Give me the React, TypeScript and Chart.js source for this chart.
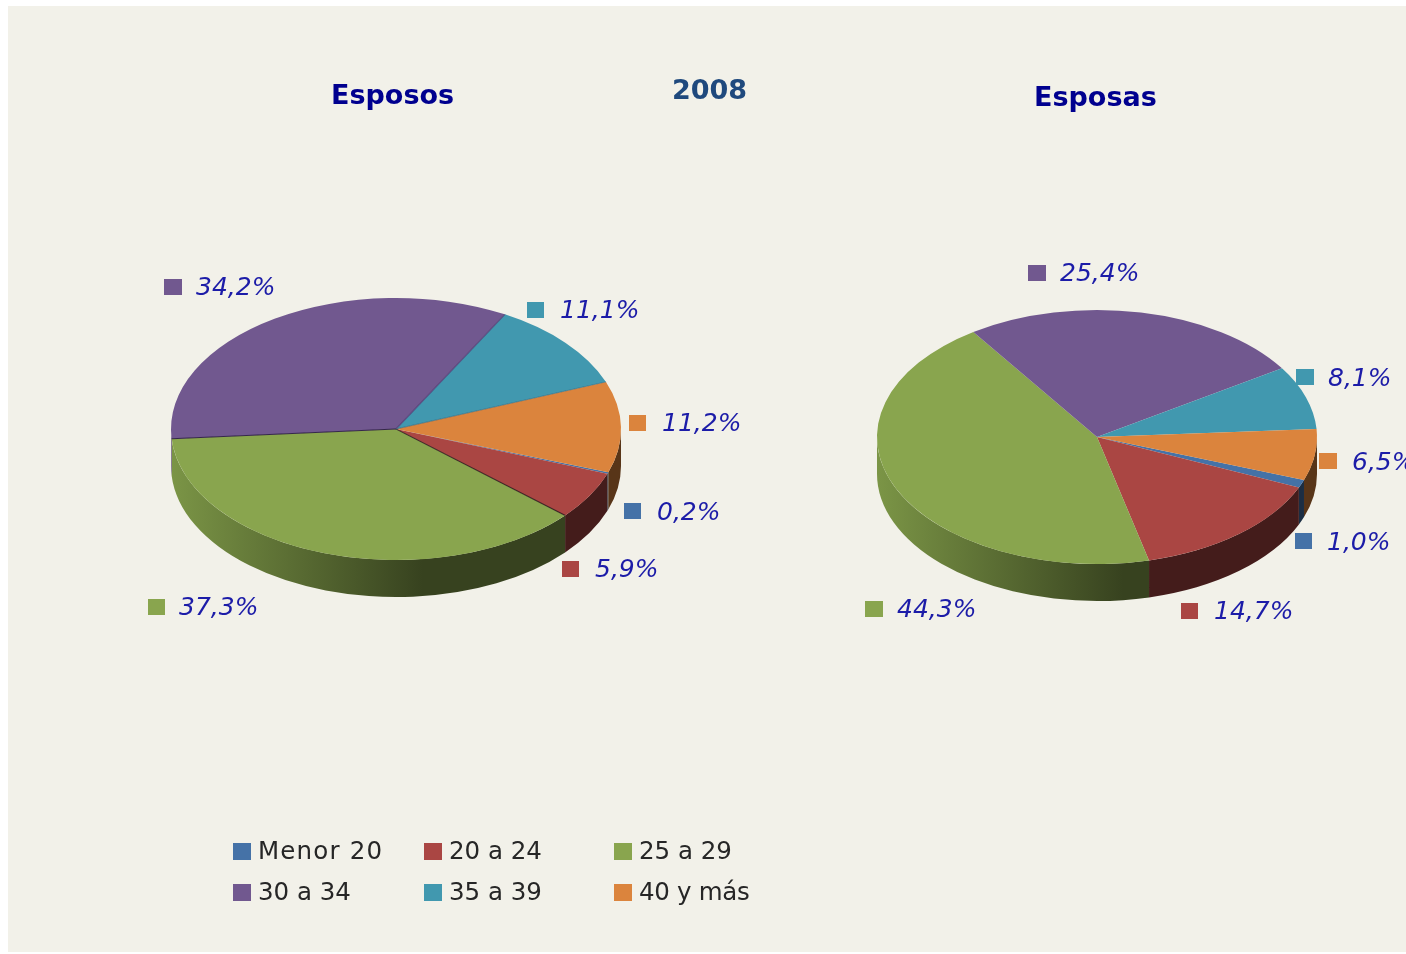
import React, { useEffect, useRef } from "react";
import { Chart, registerables } from "chart.js";

Chart.register(...registerables);

// ---------- data ----------
const categories = ["Menor 20", "20 a 24", "25 a 29", "30 a 34", "35 a 39", "40 y más"];
const esposos = [0.2, 5.9, 37.3, 34.2, 11.1, 11.2];
const esposas = [1.0, 14.7, 44.3, 25.4, 8.1, 6.5];
const pageTitle = "2008";
const titleLeft = "Esposos";
const titleRight = "Esposas";

// ---------- styles / layout ----------
const colors = ["#4572A7", "#AA4643", "#89A54E", "#71588F", "#4198AF", "#DB843D"];
const BG = "#F2F1E9";
const PAGE_X = 8;
const PAGE_Y = 6;
const PAGE_W = 1398;
const PAGE_H = 946;
const SPLIT_X = 760;
const TEXT_BLUE = "#1C1CA8";
const FONT = '"DejaVu Sans"';
const legendSpacing = ["1.2px", "0px", "0px", "0px", "0px", "-0.3px"];

type Pie = {
  data: number[];
  cx: number; cy: number; rx: number; ry: number; depth: number; rotation: number;
  left: number; right: number; seams: boolean;
  squares: [number, number, number][]; // square left x, centre y, square width
  texts: [number, number][]; // text left x, centre y
};

const leftPie: Pie = {
  data: esposos, cx: 396, cy: 429, rx: 225, ry: 131, depth: 37, rotation: 109.3,
  left: PAGE_X, right: SPLIT_X, seams: true,
  squares: [[624, 511, 17], [562, 569, 17], [148, 607, 17], [164, 287, 18], [527, 310, 17], [629, 423, 17]],
  texts: [[657, 513], [595, 570], [179, 608], [196, 288], [560, 311], [662, 424]],
};
const rightPie: Pie = {
  data: esposas, cx: 1097, cy: 437, rx: 220, ry: 127, depth: 37, rotation: 109.8,
  left: SPLIT_X, right: PAGE_X + PAGE_W, seams: false,
  squares: [[1295, 541, 17], [1181, 611, 17], [865, 609, 18], [1028, 273, 18], [1296, 377, 18], [1319, 461, 18]],
  texts: [[1327, 543], [1214, 612], [897, 610], [1060, 274], [1328, 379], [1352, 463]],
};

const legendCols = [233, 424, 614];
const legendRows = [852, 893];

function shade(hex: string, f: number) {
  const n = parseInt(hex.slice(1), 16);
  const c = [(n >> 16) & 255, (n >> 8) & 255, n & 255].map((v) => Math.round(v * f));
  return `rgb(${c[0]},${c[1]},${c[2]})`;
}

function pct(v: number) {
  return v.toFixed(1).replace(".", ",") + "%";
}

function piePlugin(p: Pie, extra?: (ctx: CanvasRenderingContext2D) => void) {
  const ox = p.left;
  const oy = PAGE_Y;
  const cx = p.cx - ox;
  const cy = p.cy - oy;
  return {
    id: "pie3d",
    beforeDatasetsDraw(chart: any) {
      const ctx: CanvasRenderingContext2D = chart.ctx;
      const arcs = chart.getDatasetMeta(0).data;
      ctx.save();
      arcs.forEach((arc: any, i: number) => {
        const { startAngle, endAngle } = arc.getProps(["startAngle", "endAngle"], true);
        for (let k = -1; k <= 2; k++) {
          const lo = Math.max(startAngle, k * 2 * Math.PI);
          const hi = Math.min(endAngle, k * 2 * Math.PI + Math.PI);
          if (hi <= lo) continue;
          const g = ctx.createLinearGradient(cx - p.rx, 0, cx + p.rx * 0.12, 0);
          g.addColorStop(0, shade(colors[i], 0.9));
          g.addColorStop(1, shade(colors[i], 0.4));
          ctx.beginPath();
          ctx.ellipse(cx, cy, p.rx, p.ry, 0, lo, hi, false);
          ctx.ellipse(cx, cy + p.depth, p.rx, p.ry, 0, hi, lo, true);
          ctx.closePath();
          ctx.fillStyle = g;
          ctx.fill();
        }
      });
      ctx.restore();
      ctx.save();
      ctx.translate(0, cy);
      ctx.scale(1, p.ry / p.rx);
      ctx.translate(0, -cy);
    },
    afterDatasetsDraw(chart: any) {
      const ctx: CanvasRenderingContext2D = chart.ctx;
      if (p.seams) {
        const arcs = chart.getDatasetMeta(0).data;
        const seam = [null, null, "rgba(40,20,25,0.85)", "rgba(35,20,60,0.85)", "rgba(80,50,110,0.7)", "rgba(40,100,130,0.6)"];
        arcs.forEach((arc: any, i: number) => {
          if (!seam[i]) return;
          const a = arc.getProps(["startAngle"], true).startAngle;
          ctx.beginPath();
          ctx.moveTo(cx, cy);
          ctx.lineTo(cx + p.rx * Math.cos(a), cy + p.rx * Math.sin(a));
          ctx.strokeStyle = seam[i] as string;
          ctx.lineWidth = 1.6;
          ctx.stroke();
        });
      }
      ctx.restore();

      ctx.save();
      ctx.textBaseline = "middle";
      ctx.textAlign = "left";
      ctx.font = `italic 25px ${FONT}`;
      p.data.forEach((v, i) => {
        const [sx, sy, sw] = p.squares[i];
        const [tx, ty] = p.texts[i];
        ctx.fillStyle = colors[i];
        ctx.fillRect(sx - ox, sy - 8 - oy, sw, 16);
        ctx.fillStyle = TEXT_BLUE;
        ctx.fillText(pct(v), tx - ox, ty - oy);
      });
      if (extra) extra(ctx);
      ctx.restore();
    },
  };
}

function drawLeftExtras(ctx: CanvasRenderingContext2D) {
  const ox = leftPie.left;
  const oy = PAGE_Y;
  ctx.textBaseline = "alphabetic";
  ctx.font = `bold 27px ${FONT}`;
  ctx.fillStyle = "#00008F";
  ctx.fillText(titleLeft, 331 - ox, 104 - oy);
  ctx.fillStyle = "#1F497D";
  ctx.fillText(pageTitle, 672 - ox, 99 - oy);
  ctx.font = `24.5px ${FONT}`;
  categories.forEach((c, i) => {
    const x = legendCols[i % 3];
    const y = legendRows[Math.floor(i / 3)];
    ctx.fillStyle = colors[i];
    ctx.fillRect(x - ox, y - 9 - oy, 18, 17);
    ctx.fillStyle = "#262626";
    ctx.textBaseline = "middle";
    (ctx as any).letterSpacing = legendSpacing[i];
    ctx.fillText(c, x + 25 - ox, y + 1 - oy);
  });
  (ctx as any).letterSpacing = "0px";
}

function drawRightExtras(ctx: CanvasRenderingContext2D) {
  ctx.textBaseline = "alphabetic";
  ctx.font = `bold 27px ${FONT}`;
  ctx.fillStyle = "#00008F";
  ctx.fillText(titleRight, 1034 - rightPie.left, 106 - PAGE_Y);
}

function makeChart(canvas: HTMLCanvasElement, p: Pie, extra: (c: CanvasRenderingContext2D) => void) {
  const w = p.right - p.left;
  const cx = p.cx - p.left;
  const cy = p.cy - PAGE_Y;
  return new Chart(canvas, {
    type: "pie",
    data: {
      labels: categories,
      datasets: [{ data: p.data, backgroundColor: colors, borderWidth: 0, clip: false } as any],
    },
    options: {
      responsive: false,
      animation: false,
      rotation: p.rotation,
      layout: {
        padding: {
          left: cx - p.rx,
          right: w - cx - p.rx,
          top: cy - p.rx,
          bottom: PAGE_H - cy - p.rx,
        },
      },
      plugins: { legend: { display: false }, title: { display: false }, tooltip: { enabled: false } },
    },
    plugins: [piePlugin(p, extra)],
  } as any);
}

export default function App() {
  const leftRef = useRef<HTMLCanvasElement>(null);
  const rightRef = useRef<HTMLCanvasElement>(null);
  useEffect(() => {
    const a = makeChart(leftRef.current!, leftPie, drawLeftExtras);
    const b = makeChart(rightRef.current!, rightPie, drawRightExtras);
    return () => {
      a.destroy();
      b.destroy();
    };
  }, []);
  const canvasStyle = (p: Pie): React.CSSProperties => ({
    position: "absolute",
    left: p.left - PAGE_X,
    top: 0,
    filter: "blur(0.6px)",
  });
  return (
    <div
      style={{
        position: "fixed",
        left: PAGE_X,
        top: PAGE_Y,
        width: PAGE_W,
        height: PAGE_H,
        background: BG,
        overflow: "hidden",
      }}
    >
      <canvas ref={leftRef} width={leftPie.right - leftPie.left} height={PAGE_H} style={canvasStyle(leftPie)} />
      <canvas ref={rightRef} width={rightPie.right - rightPie.left} height={PAGE_H} style={canvasStyle(rightPie)} />
    </div>
  );
}
